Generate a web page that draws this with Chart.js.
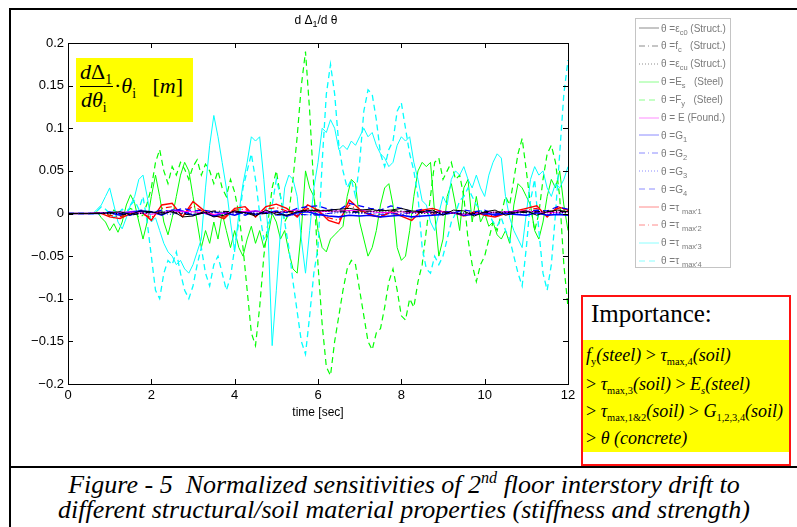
<!DOCTYPE html>
<html>
<head>
<meta charset="utf-8">
<script src="https://cdn.jsdelivr.net/npm/chart.js@4.4.1/dist/chart.umd.min.js"></script>
<style>
  body { margin:0; background:#fff; width:797px; height:527px; overflow:hidden; position:relative; font-family:'Liberation Sans', Arial, sans-serif; }
  .abs { position:absolute; }
  .serif { font-family:'Liberation Serif', 'Times New Roman', serif; white-space:nowrap; }
  sub { font-size:62%; vertical-align:-0.35em; line-height:0; font-style:normal; }
  .imp sub { font-size:58%; }
  #legend { left:635px; top:18px; width:96px; height:250px; border:1px solid #c4c4c4; box-sizing:border-box; background:#fff; }
  .lrow { position:absolute; left:3px; height:12px; display:flex; align-items:center; font-size:10px; color:#7a7a7a; white-space:nowrap; }
  .lrow svg { margin-right:2px; opacity:0.45; }
  .lrow sub { font-size:75%; vertical-align:-0.45em; }
</style>
</head>
<body>
<div class="abs" style="left:9px;top:8px;width:788px;height:2px;background:#000"></div>
<div class="abs" style="left:9px;top:8px;width:2px;height:519px;background:#000"></div>
<div class="abs" style="left:9px;top:466px;width:788px;height:2px;background:#000"></div>

<canvas id="chart" class="abs" width="578" height="430" style="left:0;top:0"></canvas>

<div class="abs" style="left:268px;top:13px;width:96px;text-align:center;font-size:12px;">d &Delta;<sub style="font-size:75%">1</sub>/d &theta;</div>

<div class="abs" style="left:76px;top:58px;width:117px;height:64px;background:#ff0;"></div>
<div class="abs serif" style="left:80px;top:61px;font-size:22px;line-height:22px;"><i>d</i>&Delta;<sub>1</sub></div>
<div class="abs" style="left:80px;top:86px;width:33px;height:1px;background:#000"></div>
<div class="abs serif" style="left:81px;top:89px;font-size:22px;line-height:22px;"><i>d&theta;<sub>i</sub></i></div>
<div class="abs serif" style="left:114px;top:75px;font-size:22px;line-height:22px;">&middot;<i>&theta;<sub>i</sub></i>&nbsp;&nbsp;&nbsp;[<i>m</i>]</div>

<div id="legend" class="abs"></div>

<div class="abs imp" style="left:581px;top:295px;width:210px;height:171px;border:2px solid #f11;box-sizing:border-box;background:#fff;">
  <div class="abs serif" style="left:8px;top:4px;font-size:25px;line-height:25px;">Importance:</div>
  <div class="abs" style="left:0;top:43px;width:206px;height:112px;background:#ff0;"></div>
  <div class="abs serif" style="left:3px;top:49px;font-size:18px;line-height:18px;"><i>f</i><sub>y</sub><i>(steel)</i> &gt; <i>&tau;</i><sub>max,4</sub><i>(soil)</i></div>
  <div class="abs serif" style="left:3px;top:78px;font-size:18px;line-height:18px;">&gt; <i>&tau;</i><sub>max,3</sub><i>(soil)</i> &gt; <i>E<sub style="font-style:italic">s</sub>(steel)</i></div>
  <div class="abs serif" style="left:3px;top:105px;font-size:18px;line-height:18px;">&gt; <i>&tau;</i><sub>max,1&amp;2</sub><i>(soil)</i> &gt; <i>G</i><sub>1,2,3,4</sub><i>(soil)</i></div>
  <div class="abs serif" style="left:3px;top:132px;font-size:18px;line-height:18px;">&gt; <i>&theta;</i> <i>(concrete)</i></div>
</div>

<div class="abs serif" style="left:11px;top:472px;width:786px;text-align:center;font-size:26px;line-height:26px;font-style:italic;">Figure - 5&nbsp; Normalized sensitivities of 2<sup style="font-size:62%;vertical-align:0.6em;line-height:0">nd</sup> floor interstory drift to</div>
<div class="abs serif" style="left:11px;top:497px;width:786px;text-align:center;font-size:26px;line-height:26px;font-style:italic;">different structural/soil material properties (stiffness and strength)</div>

<script>
// sample times [sec]
const tFine = Array.from({ length: 121 }, (_, i) => i / 10);
const tMid = Array.from({ length: 49 }, (_, i) => i / 4);
const tCoarse = Array.from({ length: 25 }, (_, i) => i / 2);

const xTickVals = [0, 2, 4, 6, 8, 10, 12];
const xTickLabels = ['0', '2', '4', '6', '8', '10', '12'];
const yTickVals = [-0.2, -0.15, -0.1, -0.05, 0, 0.05, 0.1, 0.15, 0.2];
const yTickLabels = ['\u22120.2', '\u22120.15', '\u22120.1', '\u22120.05', '0', '0.05', '0.1', '0.15', '0.2'];

// theta = eps_c0 (Struct.)
const ec0Vals = [0, 0, 0, 0,
  0.001, 0.002, -0.001, 0.003,  0.002, -0.001, 0.003, -0.004,  -0.003, 0.002, -0.004, -0.002,
  0.003, 0.001, -0.003, 0.004,  -0.001, -0.002, 0.002, 0.004,  0.003, 0.004, 0.005, 0.006,
  0.004, 0.005, 0.003, 0.004,  0.006, 0.003, 0.002, 0.004,  -0.002, 0.004, 0.003, -0.003,
  0.002, 0.004, -0.002, 0.001,  0.003, -0.002, 0.002, 0.004,  0.002];
// theta = f_c (Struct.)
const fcVals = [0, 0, 0.001, -0.002, 0.002, 0.001, -0.002, 0.003, 0.002, -0.001, 0.001, 0.003,
  0.004, 0.003, 0.002, 0.004, 0.003, 0.001, 0.002, -0.001, 0.001, 0.002, 0.001, 0.003, 0.002];
// theta = eps_cu (Struct.)
const ecuVals = [0, 0, 0, -0.001, 0.001, 0.002, -0.001, 0.002, 0.001, 0, 0.002, 0.002,
  0.003, 0.002, 0.001, 0.003, 0.002, 0, 0.001, 0, 0.002, 0.001, 0.002, 0.002, 0.001];
// theta = E_s (Steel)
const esVals = [
  0, 0, 0, 0, 0, 0, 0, 0.002, -0.005, -0.01,
  -0.02, -0.012, -0.022, -0.01, 0.01, 0.022, 0.012, -0.01, -0.03, -0.01,
  0.02, 0.045, 0.02, -0.01, -0.025, -0.005, 0.02, 0.045, 0.06, 0.05,
  0.02, -0.01, -0.04, -0.02, -0.035, -0.01, -0.03, 0, -0.02, -0.04,
  -0.02, -0.04, -0.05, -0.03, -0.015, -0.035, -0.02, -0.04, -0.025, 0,
  -0.01, -0.03, -0.02, -0.045, -0.065, -0.07, -0.02, 0.05, 0.03, 0.02,
  -0.02, -0.04, -0.045, -0.03, -0.025, -0.02, -0.015, 0.02, 0.04, 0.035,
  -0.01, -0.03, -0.05, -0.04, -0.02, 0.01, 0.03, 0.035, 0.01, -0.04,
  -0.055, -0.05, -0.02, 0.02, 0.05, 0.06, 0.055, 0.06, 0, -0.05,
  -0.03, 0.02, 0.035, 0.01, -0.02, 0.03, 0.04, -0.01, 0.02, -0.01,
  0, -0.015, -0.01, -0.025, -0.03, -0.02, -0.035, 0.01, 0.035, 0.03,
  0.02, 0.01, -0.02, -0.03, -0.01, 0.02, 0.04, 0.03, 0.05, 0.01,
  -0.02];
// theta = F_y (Steel)
const fyVals = [
  0, 0, 0, 0, 0, 0, 0, 0, 0, 0.002,
  -0.003, 0.004, 0, -0.004, 0.002, 0.006, 0.003, -0.005, -0.002, 0.012,
  0.03, 0.06, 0.075, 0.05, 0.035, 0.055, 0.045, 0.06, 0.052, 0.04,
  0.055, 0.063, 0.045, 0.058, 0.05, 0.035, 0.05, 0.03, 0.02, 0.04,
  0.025, 0, -0.04, -0.09, -0.14, -0.155, -0.11, -0.05, -0.01, 0.03,
  0.05, 0.02, -0.01, 0, 0.04, 0.09, 0.15, 0.19, 0.12, 0.03,
  -0.06, -0.13, -0.18, -0.19, -0.15, -0.12, -0.09, -0.065, -0.055, -0.06,
  -0.09, -0.12, -0.15, -0.16, -0.14, -0.135, -0.11, -0.08, -0.065, -0.09,
  -0.12, -0.125, -0.1, -0.11, -0.08, -0.06, -0.02, 0.02, 0.06, 0.065,
  0.04, 0.05, 0.06, 0.04, 0.045, 0.02, -0.03, -0.06, -0.08, -0.06,
  -0.05, -0.03, -0.01, -0.02, 0, 0.02, 0.01, 0.04, 0.07, 0.088,
  0.05, 0.01, -0.02, 0, 0.04, 0.07, 0.08, 0.06, 0.02, -0.06,
  -0.11];
// theta = E (Found.)
const efVals = [0, 0, 0.001, 0.002, -0.001, 0.003, 0.002, -0.001, 0.002, 0.003, 0.001, 0.004,
  0.002, 0.003, 0.004, 0.001, 0.002, 0.001, 0.002, -0.001, 0.001, 0.002, 0.003, 0.001, 0.002];
// theta = G1..G4
const g1Vals = [0, 0, 0, 0,
  0.001, -0.002, 0.002, 0.003,  0.002, -0.002, 0.004, 0.003,  -0.002, 0.001, -0.003, 0.001,
  -0.002, 0.002, -0.001, 0.001,  0.002, -0.003, 0.001, 0.002,  -0.001, -0.003, -0.004, -0.002,
  -0.003, -0.002, -0.004, -0.003,  -0.002, -0.004, -0.003, -0.002,  -0.001, 0.001, -0.002, -0.001,
  0.001, -0.002, 0, -0.001,  -0.002, 0.001, -0.002, -0.001,  -0.002];
const g2Vals = [0, 0, 0.001, -0.001, 0.002, 0.001, -0.001, 0.002, 0, 0.003, -0.002, -0.001,
  -0.002, 0.002, 0.001, -0.001, 0, 0.002, 0.001, 0, -0.001, 0.001, 0.002, 0.001, 0.002];
const g3Vals = [0, 0, 0, 0.001, 0.001, -0.001, 0.002, 0.001, -0.001, 0.002, -0.001, -0.002,
  -0.001, 0.001, 0, 0.001, -0.001, 0.001, 0, 0.001, 0.001, 0, 0.001, -0.001, 0.001];
const g4Vals = [0, 0, 0, 0,
  0.002, 0, -0.002, 0.004,  0.001, 0.004, 0.002, 0.006,  0.003, 0.004, 0.002, -0.001,
  0.002, -0.002, 0.003, 0.001,  0.003, 0.001, 0.006, 0.008,  0.009, 0.005, 0.004, 0.012,
  0.009, 0.006, 0.004, 0.009,  0.006, 0.002, 0.005, 0.001,  0.003, 0.001, 0.004, 0.002,
  0.004, -0.001, 0.002, 0.003,  0.002, 0.004, 0.003, 0.008,  0.005];
// theta = tau_max'1 .. tau_max'4
const t1Vals = [0, 0, 0, 0.001,
  -0.004, -0.006, 0, 0.003,  -0.008, 0.01, 0.012, -0.004,  0.014, 0.004, -0.002, -0.006,
  0.006, 0.008, -0.004, 0.008,  0.011, 0.006, -0.004, 0.01,  0.004, -0.008, -0.012, 0.016,
  0.005, -0.002, -0.004, 0.002,  -0.003, -0.008, 0.004, 0.006,  0.002, 0.001, -0.003, 0.002,
  -0.002, -0.004, 0, 0.003,  0.006, 0.009, -0.004, 0.008,  0.004];
const t2Vals = [0, 0, 0, 0,
  -0.002, -0.004, 0.002, 0,  -0.005, 0.006, 0.008, -0.002,  0.009, 0.002, -0.003, -0.004,
  0.004, 0.005, -0.002, 0.005,  0.007, 0.003, -0.003, 0.006,  0.002, -0.005, -0.008, 0.01,
  0.003, -0.001, -0.003, 0.001,  -0.002, 0.002, 0.004, -0.001,  0.001, 0, -0.002, 0.001,
  -0.001, -0.003, 0, 0.002,  0.004, 0.006, -0.003, 0.006,  0.003];
const t3Vals = [
  0, 0, 0, 0, 0, 0, 0, 0.005, 0.01, 0.02,
  0.03, 0.01, -0.01, -0.018, -0.005, 0.01, 0.02, 0.04, 0.045, 0.02,
  -0.01, -0.005, -0.02, -0.035, -0.045, -0.05, -0.06, -0.055, -0.065, -0.07,
  -0.06, -0.045, -0.03, 0.03, 0.08, 0.115, 0.09, 0.06, 0.03, -0.01,
  -0.045, 0, 0.035, 0.06, 0.09, 0.085, 0.09, 0.04, -0.02, -0.155,
  -0.09, -0.02, 0.03, 0.045, 0.04, 0.02, -0.03, -0.07, -0.02, 0.03,
  0.06, 0.1, 0.095, 0.11, 0.1, 0.075, 0.08, 0.075, 0.085, 0.08,
  0.09, 0.1, 0.09, 0.095, 0.08, 0.07, 0.065, 0.055, 0.06, 0.08,
  0.09, 0.085, 0.09, 0.06, 0.04, 0.015, 0.01, -0.01, -0.02, 0,
  0.02, 0.01, 0.04, 0.05, 0.045, 0.055, 0.04, 0.03, 0.045, 0.03,
  0.02, 0.045, 0.06, 0.07, 0.065, 0.02, -0.005, -0.02, -0.03, -0.04,
  0, 0.04, 0.055, 0.045, 0.05, 0.03, 0.02, 0.035, 0.03, 0.04,
  0.055];
const t4Vals = [
  0, 0, 0, 0, 0, 0, 0, 0.003, 0.008, 0.005,
  0, -0.005, 0, 0.005, 0, 0.01, 0.015, 0.005, 0.02, -0.01,
  -0.05, -0.09, -0.1, -0.07, -0.055, -0.06, -0.045, -0.07, -0.09, -0.1,
  -0.085, -0.06, -0.04, -0.07, -0.085, -0.06, -0.05, -0.07, -0.09, -0.075,
  -0.04, -0.01, 0.03, 0.05, 0.07, 0.04, 0, -0.03, -0.02, 0.01,
  0.04, 0.02, -0.01, -0.04, -0.08, -0.115, -0.15, -0.165, -0.12, -0.07,
  -0.04, 0.06, 0.14, 0.175, 0.14, 0.08, 0.05, 0.03, 0.04, 0.02,
  0.06, 0.12, 0.145, 0.14, 0.11, 0.07, 0.055, 0.075, 0.085, 0.12,
  0.13, 0.1, 0.07, 0.05, 0.02, -0.04, -0.065, -0.07, -0.05, -0.06,
  -0.05, -0.03, -0.01, 0, 0.015, 0.02, 0.03, 0.02, 0.01, 0.005,
  -0.005, 0, -0.01, -0.015, -0.005, -0.02, -0.03, -0.05, -0.07, -0.085,
  -0.04, 0.015, 0.04, -0.02, -0.07, -0.09, -0.06, 0, 0.07, 0.14,
  0.18];

const seriesLabels = [
  '&theta; =&epsilon;<sub>c0</sub> (Struct.)', '&theta; =f<sub>c</sub>&nbsp;&nbsp; (Struct.)',
  '&theta; =&epsilon;<sub>cu</sub> (Struct.)', '&theta; =E<sub>s</sub>&nbsp;&nbsp; (Steel)',
  '&theta; =F<sub>y</sub>&nbsp;&nbsp; (Steel)', '&theta; = E (Found.)',
  '&theta; =G<sub>1</sub>', '&theta; =G<sub>2</sub>', '&theta; =G<sub>3</sub>', '&theta; =G<sub>4</sub>',
  '&theta; =&tau; <sub>max\'1</sub>', '&theta; =&tau; <sub>max\'2</sub>',
  '&theta; =&tau; <sub>max\'3</sub>', '&theta; =&tau; <sub>max\'4</sub>'
];
const seriesTimes = [tMid, tCoarse, tCoarse, tFine, tFine, tCoarse, tMid, tCoarse, tCoarse, tMid, tMid, tMid, tFine, tFine];
const seriesValues = [ec0Vals, fcVals, ecuVals, esVals, fyVals, efVals, g1Vals, g2Vals, g3Vals, g4Vals, t1Vals, t2Vals, t3Vals, t4Vals];
const seriesColors = ['#000000', '#000000', '#000000', '#00ff00', '#00ff00', '#ff00ff',
  '#0000ff', '#0000ff', '#0000ff', '#0000ff', '#ff0000', '#ff0000', '#00ffff', '#00ffff'];
const solid = [], dashed = [6, 4], dashDot = [6, 3, 1, 3], dotted = [1, 2];
const seriesDash = [solid, dashDot, dotted, solid, dashed, solid, solid, dashDot, dotted, dashed, solid, dashDot, solid, dashed];
const seriesWidth = [1, 1, 1, 1, 1.2, 1, 1.6, 1, 1, 1.3, 1.4, 1.2, 1, 1.3];
const seriesOrder = [0, 0, 0, 2, 2, 0, 0, 0, 0, 0, 0, 0, 1, 1];

// legend
const legendEl = document.getElementById('legend');
seriesLabels.forEach((html, i) => {
  const row = document.createElement('div');
  row.className = 'lrow';
  row.style.top = (3 + i * 17.9) + 'px';
  row.innerHTML = '<svg width="20" height="6"><line x1="0" y1="3" x2="20" y2="3" stroke="' + seriesColors[i] +
    '" stroke-width="1" stroke-dasharray="' + (seriesDash[i].length ? seriesDash[i].join(' ') : 'none') + '"/></svg><span>' + html + '</span>';
  legendEl.appendChild(row);
});

const datasets = seriesValues.map((vals, i) => ({
  label: seriesLabels[i].replace(/<[^>]+>/g, ''),
  data: vals.map((v, k) => ({ x: seriesTimes[i][k], y: v })),
  borderColor: seriesColors[i],
  borderDash: seriesDash[i],
  borderWidth: seriesWidth[i],
  order: seriesOrder[i],
  pointRadius: 0,
  tension: 0,
  fill: false
}));

// MATLAB style box with inward ticks on all sides
const matlabAxes = {
  id: 'matlabAxes',
  afterDatasetsDraw(chart) {
    const { ctx, chartArea: a, scales: { x, y } } = chart;
    ctx.save();
    ctx.strokeStyle = '#000';
    ctx.lineWidth = 1;
    ctx.strokeRect(Math.round(a.left) + 0.5, Math.round(a.top) + 0.5, Math.round(a.width), Math.round(a.height));
    ctx.beginPath();
    xTickVals.forEach(v => {
      const px = Math.round(x.getPixelForValue(v)) + 0.5;
      ctx.moveTo(px, a.bottom); ctx.lineTo(px, a.bottom - 5);
      ctx.moveTo(px, a.top); ctx.lineTo(px, a.top + 5);
    });
    yTickVals.forEach(v => {
      const py = Math.round(y.getPixelForValue(v)) + 0.5;
      ctx.moveTo(a.left, py); ctx.lineTo(a.left + 5, py);
      ctx.moveTo(a.right, py); ctx.lineTo(a.right - 5, py);
    });
    ctx.stroke();
    ctx.restore();
  }
};

const tickFont = { family: "'Liberation Sans', Arial, sans-serif", size: 13 };

new Chart(document.getElementById('chart').getContext('2d'), {
  type: 'line',
  data: { datasets },
  options: {
    responsive: false,
    animation: false,
    layout: { padding: { left: 0, top: 43, right: 10, bottom: 0 } },
    plugins: { legend: { display: false }, tooltip: { enabled: false } },
    scales: {
      x: {
        type: 'linear', min: 0, max: 12,
        grid: { display: false, drawTicks: false },
        border: { display: false },
        afterBuildTicks: s => { s.ticks = xTickVals.map(v => ({ value: v })); },
        ticks: { color: '#000', font: tickFont, padding: 4, maxRotation: 0,
          callback: v => xTickLabels[xTickVals.indexOf(v)] },
        title: { display: true, text: 'time [sec]', color: '#000',
          font: { family: "'Liberation Sans', Arial, sans-serif", size: 12 }, padding: { top: 0, bottom: 10 } },
        afterFit: s => { s.height = 46; s.paddingLeft = 0; s.paddingRight = 0; }
      },
      y: {
        min: -0.2, max: 0.2,
        grid: { display: false, drawTicks: false },
        border: { display: false },
        afterBuildTicks: s => { s.ticks = yTickVals.map(v => ({ value: v })); },
        ticks: { color: '#000', font: tickFont, padding: 4,
          callback: v => yTickLabels[yTickVals.findIndex(t => Math.abs(t - v) < 1e-9)] },
        afterFit: s => { s.width = 68; s.paddingTop = 0; s.paddingBottom = 0; }
      }
    }
  },
  plugins: [matlabAxes]
});
</script>
</body>
</html>
